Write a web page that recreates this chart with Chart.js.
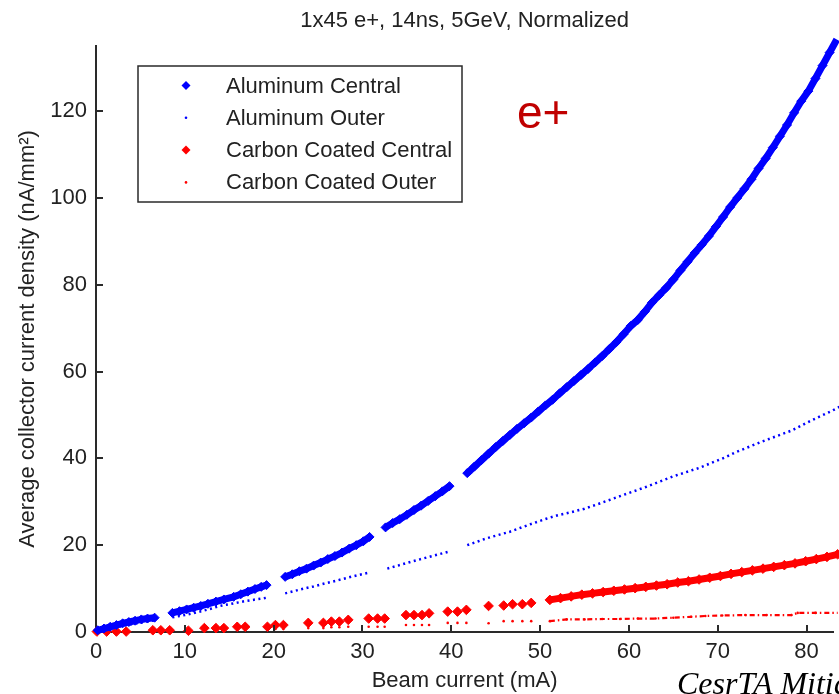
<!DOCTYPE html>
<html>
<head>
<meta charset="utf-8">
<title>Collector current density vs beam current</title>
<script src="https://cdn.jsdelivr.net/npm/chart.js@4.4.1/dist/chart.umd.min.js"></script>
<style>
  html, body { margin: 0; padding: 0; background: #fff; overflow: hidden; }
  canvas { display: block; }
</style>
</head>
<body>
<canvas id="densityChart" width="839" height="694"></canvas>
<script>
'use strict';

// Beam current (mA) vs average collector current density (nA/mm^2).
// A null density means the scan has no reading there (gap in the data).
const alCentralCurrent = [
    0.2, 0.9, 1.6, 2.3, 3.0, 3.7, 4.4, 5.1, 5.8, 6.6, 7.6,
    8.6, 9.4, 10.2, 11.0, 11.8, 12.6, 13.5, 14.4, 15.5, 16.3, 17.1, 17.9, 18.6, 19.2, 20.2,
    21.3, 22.1, 22.9, 23.7, 24.5, 25.3, 26.1, 26.9, 27.7, 28.5, 29.3, 30.1, 30.8, 31.7,
    32.6, 33.4, 34.2, 35.0, 35.8, 36.6, 37.4, 38.2, 39.0, 39.8, 40.8,
    41.8, 42.6, 43.4, 44.2, 45.0, 45.8, 46.6, 47.4, 48.2, 49.0, 49.8, 50.6, 51.4,
    52.2, 53.0, 53.8, 54.6, 55.4, 56.2, 57.0, 57.8, 58.6, 59.4, 60.2,
    61.0, 61.8, 62.6, 63.4, 64.2, 65.0, 65.8, 66.6,
    67.4, 68.2, 69.0, 69.8, 70.6, 71.4, 72.2, 73.0, 73.8, 74.6, 75.4, 76.2, 77.0, 77.8,
    78.6, 79.4, 80.2, 81.0, 81.8, 82.6, 83.4
];
const alCentralDensity = [
    0.4, 0.8, 1.2, 1.6, 2.0, 2.3, 2.6, 2.9, 3.1, 3.3, null,
    4.4, 4.8, 5.2, 5.6, 6.0, 6.5, 7.0, 7.5, 8.1, 8.7, 9.3, 9.9, 10.4, 10.8, null,
    12.7, 13.3, 14.0, 14.6, 15.3, 16.0, 16.8, 17.5, 18.3, 19.2, 20.0, 20.9, 21.9, null,
    24.1, 25.1, 26.0, 27.0, 28.1, 29.1, 30.2, 31.3, 32.4, 33.6, null,
    36.6, 38.1, 39.6, 41.1, 42.6, 44.0, 45.4, 46.8, 48.1, 49.4, 50.8, 52.2, 53.5,
    55.0, 56.4, 57.8, 59.2, 60.6, 62.1, 63.6, 65.2, 66.8, 68.6, 70.5,
    71.9, 73.8, 75.9, 77.6, 79.3, 81.2, 83.3, 85.3,
    87.3, 89.2, 91.2, 93.4, 95.6, 97.9, 100.0, 102.1, 104.3, 106.8, 109.1, 111.6, 114.2, 116.8,
    119.6, 122.3, 124.6, 127.5, 130.5, 133.5, 136.5
];

const alOuterCurrent = [
    0.2, 2.0, 4.0, 6.6, 7.6,
    8.6, 10.0, 11.5, 13.0, 13.9, 15.5, 17.0, 18.7, 19.2, 20.2,
    21.3, 23.0, 24.5, 25.8, 27.2, 28.5, 29.5, 30.6, 31.7,
    32.8, 34.0, 35.5, 37.5, 39.7, 40.8,
    41.8, 44.0, 46.6, 48.6, 50.7, 52.0, 53.3, 55.0, 56.7, 59.0,
    61.9, 64.9, 67.9, 70.8, 72.0, 74.9, 78.3, 80.5, 82.9, 84.0
];
const alOuterDensity = [
    0.2, 1.0, 1.8, 2.7, null,
    3.4, 3.9, 4.6, 5.4, 6.0, 6.6, 7.2, 7.7, 7.9, null,
    8.9, 9.8, 10.5, 11.2, 11.9, 12.6, 13.1, 13.6, null,
    14.6, 15.3, 16.2, 17.3, 18.5, null,
    20.0, 21.6, 23.1, 24.6, 26.1, 26.9, 27.5, 28.4, 29.6, 31.3,
    33.4, 35.8, 37.8, 40.2, 41.4, 43.8, 46.4, 48.7, 51.0, 52.2
];

const ccCentralCurrent = [
    0.1, 1.2, 2.3, 3.4, 6.4, 7.3, 8.3, 10.4, 12.2, 13.5, 14.4, 15.9, 16.8, 19.3, 20.2, 21.1,
    23.9, 25.6, 26.5, 27.4, 28.4, 30.7, 31.7, 32.5, 34.9, 35.8, 36.7, 37.5, 39.6, 40.7, 41.7,
    44.2, 45.9, 46.9, 48.0, 49.0,
    51.1, 52.3, 53.5, 54.7, 55.9, 57.1, 58.3, 59.5, 60.7, 61.9, 63.1, 64.3, 65.5, 66.7,
    67.9, 69.1, 70.3, 71.5, 72.7, 73.9, 75.1, 76.3, 77.5, 78.7, 79.9, 81.1, 82.3, 83.5
];
const ccCentralDensity = [
    0.1, 0.1, 0.1, 0.1, 0.4, 0.4, 0.4, 0.3, 0.9, 0.9, 0.9, 1.2, 1.2, 1.2, 1.6, 1.6,
    2.1, 2.1, 2.4, 2.4, 2.8, 3.1, 3.1, 3.1, 3.9, 3.9, 3.9, 4.3, 4.7, 4.7, 5.1,
    6.0, 6.1, 6.4, 6.4, 6.7,
    7.4, 7.8, 8.2, 8.6, 8.9, 9.2, 9.5, 9.8, 10.1, 10.4, 10.7, 11.0, 11.4, 11.7,
    12.1, 12.5, 12.9, 13.4, 13.8, 14.2, 14.6, 15.0, 15.4, 15.8, 16.3, 16.8, 17.3, 17.9
];

const ccOuterCurrent = [
    0.1, 1.2, 2.3, 3.4, 6.4, 7.3, 8.3, 10.4, 12.2, 13.5, 14.4, 15.9, 16.8, 19.3, 20.2, 21.1,
    23.9, 25.6, 26.5, 27.4, 28.4, 30.7, 31.7, 32.5, 34.9, 35.8, 36.7, 37.5, 39.6, 40.7, 41.7,
    44.2, 45.9, 46.9, 48.0, 49.0,
    51.1, 53.0, 55.0, 57.0, 59.0, 61.0, 63.0, 65.0, 67.0, 68.6, 70.5, 73.1, 75.5, 78.3,
    79.0, 81.0, 83.5
];
const ccOuterDensity = [
    0.0, 0.0, 0.0, 0.0, 0.1, 0.1, 0.1, 0.1, 0.3, 0.3, 0.3, 0.5, 0.5, 0.5, 0.7, 0.7,
    0.9, 0.9, 1.1, 1.1, 1.2, 1.2, 1.2, 1.2, 1.6, 1.6, 1.6, 1.6, 2.1, 2.1, 2.1,
    2.0, 2.5, 2.5, 2.5, 2.5,
    2.5, 2.9, 2.9, 3.0, 3.0, 3.1, 3.1, 3.3, 3.5, 3.7, 3.8, 3.9, 3.9, 3.9,
    4.4, 4.4, 4.4
];

const xTickValues = [0, 10, 20, 30, 40, 50, 60, 70, 80];
const yTickValues = [0, 20, 40, 60, 80, 100, 120];

const TITLE = '1x45 e+, 14ns, 5GeV, Normalized';
const X_LABEL = 'Beam current (mA)';
const Y_LABEL = 'Average collector current density (nA/mm\u00b2)';
const BEAM_LABEL = 'e+';
const FOOTER = 'CesrTA Mitigation';

const BLUE = '#0000ff';
const RED = '#ff0000';
const TEXT = '#222222';
const AXIS = '#2a2a2a';
const SANS = "'Liberation Sans', Arial, Helvetica, sans-serif";

// the carbon scans only become continuous above ~50 mA; below that just markers
const CARBON_BAND_FROM = 50.5;
const TICK_LEN = 7;

function toPoints(current, density) {
    return current.map((x, i) => ({ x: x, y: density[i] }));
}

function carbonSegment(color) {
    return ctx => (ctx.p0.parsed.x < CARBON_BAND_FROM ? 'rgba(0,0,0,0)' : color);
}

/**
 * Inward tick marks on both axes (the library only draws them outward)
 */
const inwardTicks = {
    id: 'inwardTicks',
    afterDatasetsDraw(chart) {
        const { ctx, chartArea, scales } = chart;
        ctx.save();
        ctx.strokeStyle = AXIS;
        ctx.lineWidth = 2;
        ctx.beginPath();
        scales.x.ticks.forEach(t => {
            if (t.value === 0) return;
            const px = Math.round(scales.x.getPixelForValue(t.value));
            ctx.moveTo(px, chartArea.bottom);
            ctx.lineTo(px, chartArea.bottom - TICK_LEN);
        });
        scales.y.ticks.forEach(t => {
            if (t.value === 0) return;
            const py = Math.round(scales.y.getPixelForValue(t.value));
            ctx.moveTo(chartArea.left, py);
            ctx.lineTo(chartArea.left + TICK_LEN, py);
        });
        ctx.stroke();
        ctx.restore();
    }
};

/**
 * Boxed legend inside the plot, plus the beam label and footer text
 */
const legendBox = {
    id: 'legendBox',
    afterDraw(chart) {
        const { ctx, chartArea } = chart;
        const left = chartArea.left + 42;
        const top = chartArea.top + 20;
        const width = 324;
        const height = 136;
        const rowGap = 32.3;

        ctx.save();
        ctx.fillStyle = '#fff';
        ctx.fillRect(left, top, width, height);
        ctx.strokeStyle = AXIS;
        ctx.lineWidth = 1.5;
        ctx.strokeRect(left, top, width, height);

        ctx.font = '22px ' + SANS;
        ctx.textBaseline = 'middle';
        ctx.textAlign = 'left';
        chart.data.datasets.forEach((ds, i) => {
            const cy = top + 19.5 + i * rowGap;
            const cx = left + 48;
            ctx.fillStyle = ds.borderColor;
            ctx.beginPath();
            if (ds.pointStyle === 'rectRot') {
                const r = 4.5;
                ctx.moveTo(cx, cy - r);
                ctx.lineTo(cx + r, cy);
                ctx.lineTo(cx, cy + r);
                ctx.lineTo(cx - r, cy);
                ctx.closePath();
            } else {
                ctx.arc(cx, cy, 1.3, 0, Math.PI * 2);
            }
            ctx.fill();
            ctx.fillStyle = TEXT;
            ctx.fillText(ds.label, left + 88, cy + 1);
        });

        ctx.fillStyle = '#c00000';
        ctx.font = '46px ' + SANS;
        ctx.textBaseline = 'alphabetic';
        ctx.fillText(BEAM_LABEL, 517, 128);

        ctx.fillStyle = '#000';
        ctx.font = "italic 32px 'Liberation Serif', 'Times New Roman', serif";
        ctx.fillText(FOOTER, 677, 694);
        ctx.restore();
    }
};

const ctx = document.getElementById('densityChart').getContext('2d');

new Chart(ctx, {
    type: 'scatter',
    data: {
        datasets: [{
            label: 'Aluminum Central',
            data: toPoints(alCentralCurrent, alCentralDensity),
            borderColor: BLUE,
            backgroundColor: BLUE,
            showLine: true,
            borderWidth: 7,
            pointStyle: 'rectRot',
            pointRadius: 4.5,
            pointBorderWidth: 1,
            clip: false
        }, {
            label: 'Aluminum Outer',
            data: toPoints(alOuterCurrent, alOuterDensity),
            borderColor: BLUE,
            backgroundColor: BLUE,
            showLine: true,
            borderWidth: 2.5,
            borderDash: [2, 3.5],
            pointStyle: 'circle',
            pointRadius: 0,
            clip: false
        }, {
            label: 'Carbon Coated Central',
            data: toPoints(ccCentralCurrent, ccCentralDensity),
            borderColor: RED,
            backgroundColor: RED,
            showLine: true,
            borderWidth: 7,
            segment: { borderColor: carbonSegment(RED) },
            pointStyle: 'rectRot',
            pointRadius: 4.8,
            pointBorderWidth: 1,
            clip: false
        }, {
            label: 'Carbon Coated Outer',
            data: toPoints(ccOuterCurrent, ccOuterDensity),
            borderColor: RED,
            backgroundColor: RED,
            showLine: true,
            borderWidth: 2.2,
            borderDash: [5, 3, 1.5, 3],
            segment: { borderColor: carbonSegment(RED) },
            pointStyle: 'circle',
            pointRadius: 1.3,
            pointBorderWidth: 0,
            clip: false
        }]
    },
    options: {
        responsive: false,
        animation: false,
        devicePixelRatio: 1,
        events: [],
        layout: { padding: 0 },
        plugins: {
            legend: { display: false },
            tooltip: { enabled: false },
            title: {
                display: true,
                text: TITLE,
                fullSize: false,
                color: TEXT,
                font: { family: SANS, size: 22, weight: 'normal' },
                padding: { top: 8, bottom: 11.6 }
            }
        },
        scales: {
            x: {
                type: 'linear',
                min: 0,
                max: 83,
                afterBuildTicks: scale => {
                    scale.ticks = xTickValues.map(v => ({ value: v }));
                },
                afterFit: scale => { scale.height = 62; },
                grid: { display: false, drawTicks: false },
                border: { display: true, color: AXIS, width: 2 },
                ticks: {
                    color: TEXT,
                    padding: 7,
                    maxRotation: 0,
                    font: { family: SANS, size: 22 }
                },
                title: {
                    display: true,
                    text: X_LABEL,
                    color: TEXT,
                    font: { family: SANS, size: 22 },
                    padding: { top: 0, bottom: 0 }
                }
            },
            y: {
                type: 'linear',
                min: 0,
                max: 135,
                afterBuildTicks: scale => {
                    scale.ticks = yTickValues.map(v => ({ value: v }));
                },
                afterFit: scale => { scale.width = 96; },
                grid: { display: false, drawTicks: false },
                border: { display: true, color: AXIS, width: 2 },
                ticks: {
                    color: TEXT,
                    padding: 9,
                    font: { family: SANS, size: 22 }
                },
                title: {
                    display: true,
                    text: Y_LABEL,
                    color: TEXT,
                    font: { family: SANS, size: 22 },
                    padding: { top: 15, bottom: 0 }
                }
            }
        }
    },
    plugins: [inwardTicks, legendBox]
});
</script>
</body>
</html>
